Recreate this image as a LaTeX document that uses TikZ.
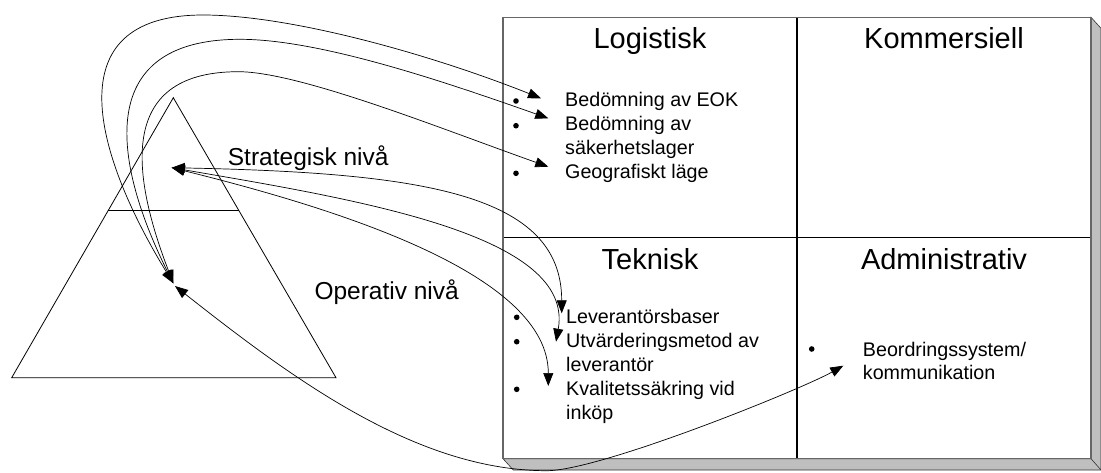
\documentclass[tikz,border=0pt]{standalone}
\usepackage{fontspec}
\setmainfont{Liberation Sans}
\usetikzlibrary{arrows.meta}
\begin{document}
\begin{tikzpicture}[x=1pt,y=-1pt,
  frame/.style={draw=black!60, line width=1.3pt},
  divider/.style={draw=black, line width=1.3pt},
  shadowface/.style={fill=black!25, draw=black!80, line width=0.6pt},
  level/.style={draw=black, line width=0.8pt},
  link/.style={draw=black, line width=0.7pt,
    {Triangle[length=13pt,width=10pt]}-{Triangle[length=13pt,width=10pt]}},
  title/.style={font=\fontsize{29}{34}\selectfont, anchor=base, inner sep=0pt},
  levellabel/.style={font=\fontsize{24.5}{29}\selectfont, anchor=base west, inner sep=0pt},
  item/.style={font=\fontsize{19.7}{24}\selectfont, anchor=base west, inner sep=0pt},
  dot/.style={circle, fill=black, inner sep=0pt, minimum size=5.6pt},
]
\useasboundingbox (0,0) rectangle (1101,472);

% raised 2x2 matrix with its side faces
\path[shadowface] (503,458.7) -- (513.3,470) -- (1101,470) -- (1101,28.3)
  -- (1091,17.3) -- (1091,458.7) -- cycle;
\draw[draw=black!80, line width=0.6pt] (1091,458.7) -- (1101,470);
\path[fill=white] (503,17.3) rectangle (1091,458.7);
\draw[divider] (797,17.3) -- (797,458.7);
\draw[divider] (503,237.5) -- (1091,237.5);
\draw[frame] (503,17.3) rectangle (1091,458.7);

% pyramid with its two levels
\draw[level] (173.3,97.7) -- (336,377.7) -- (11.7,377.7) -- cycle;
\draw[draw=black, line width=1.5pt] (108.3,210.7) -- (239.3,210.7);

% quadrant titles
\node[title] (logt) at (650,48.3) {Logistisk};
\node[title] (komt) at (944,48.3) {Kommersiell};
\node[title] (tekt) at (650,269) {Teknisk};
\node[title] (admt) at (944,269) {Administrativ};

% level labels
\node[levellabel] (strat) at (227.7,165) {Strategisk nivå};
\node[levellabel] (oper) at (314.3,299) {Operativ nivå};

% logistic items
\node[dot] (b1) at (516,101) {};
\node[dot] (b2) at (516,125.7) {};
\node[dot] (b3) at (516,173.3) {};
\node[item] (i1) at (565,106.7) {Bedömning av EOK};
\node[item] (i2) at (565,130.7) {Bedömning av};
\node[item] (i2b) at (565,154.7) {säkerhetslager};
\node[item] (i3) at (565,178.7) {Geografiskt läge};

% technical items
\node[dot] (b4) at (516.7,317.3) {};
\node[dot] (b5) at (516.7,341.7) {};
\node[dot] (b6) at (516.7,389.3) {};
\node[item] (i4) at (566,323.5) {Leverantörsbaser};
\node[item] (i5) at (566,347.5) {Utvärderingsmetod av};
\node[item] (i5b) at (566,371.5) {leverantör};
\node[item] (i6) at (566,395.5) {Kvalitetssäkring vid};
\node[item] (i6b) at (566,419.5) {inköp};

% administrative item
\node[dot] (b7) at (811.7,349) {};
\node[item] (i7) at (862.7,356.7) {Beordringssystem/};
\node[item] (i7b) at (862.7,379.5) {kommunikation};

% connector ends
\coordinate (S) at (171.7,167.7);
\coordinate (O) at (173.3,283.3);
\coordinate (O2) at (175,286);
\coordinate (eok) at (541,98.3);
\coordinate (sak) at (548.3,118.3);
\coordinate (geo) at (548.3,166.7);
\coordinate (lev) at (561.7,313.3);
\coordinate (utv) at (556,341.7);
\coordinate (kval) at (548.3,386);
\coordinate (beo) at (843.3,365.7);

% operative level <-> logistic items
\draw[link] (O) .. controls (95.3,155.8) and (53,15) .. (203,15)
  .. controls (290,15) and (429.4,53.9) .. (eok);
\draw[link] (O) .. controls (115.3,167) and (90,39.3) .. (240,39.3)
  .. controls (320,39.3) and (444.6,81.7) .. (sak);
\draw[link] (O) .. controls (133.9,180.6) and (113.3,71.7) .. (238.3,71.7)
  .. controls (300,71.7) and (444.6,130.1) .. (geo);

% strategic level <-> technical items
\draw[link] (S) .. controls (421.7,172.7) and (561.7,193.3) .. (lev);
\draw[link] (S) .. controls (360,200) and (575,235) .. (utv);
\draw[link] (S) .. controls (346.3,210.9) and (548.3,276) .. (kval);

% operative level <-> administrative item
\draw[link] (O2) .. controls (292.8,378.9) and (416.7,470.7) .. (546.7,470.7)
  .. controls (600,470.7) and (800,390) .. (beo);
\end{tikzpicture}
\end{document}
